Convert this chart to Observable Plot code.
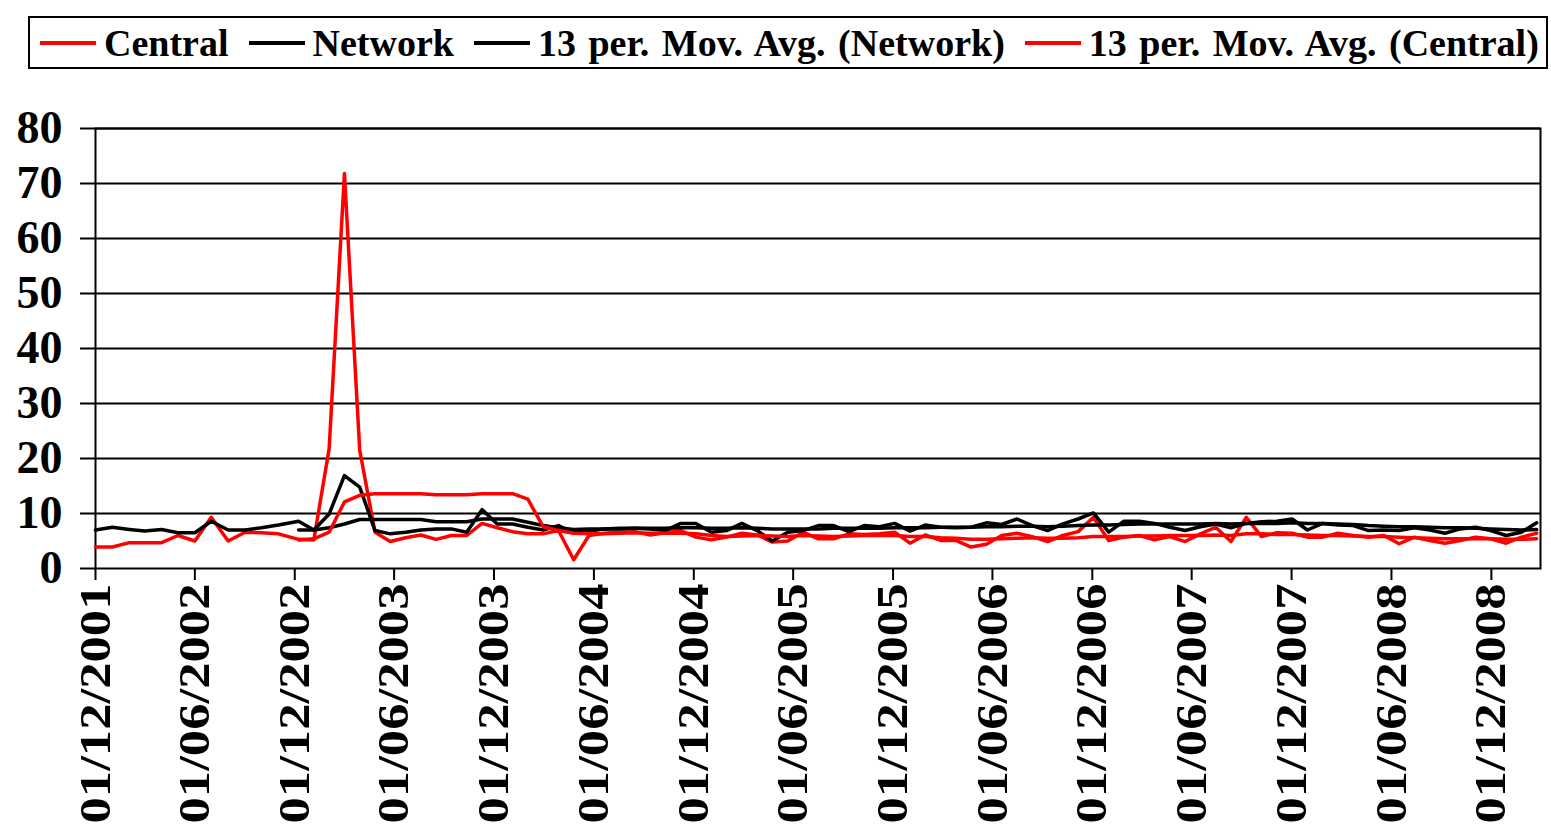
<!DOCTYPE html>
<html><head><meta charset="utf-8">
<script src="https://cdn.jsdelivr.net/npm/d3@7"></script>
<script src="https://cdn.jsdelivr.net/npm/@observablehq/plot@0.6"></script>
<style>
body{margin:0;background:#fff;width:1551px;height:824px;overflow:hidden;position:relative;font-family:"Liberation Serif","Times New Roman",serif;font-weight:bold;}
#legend{position:absolute;left:28px;top:16px;width:1516px;height:49px;border:2px solid #000;display:flex;align-items:center;font-size:38px;white-space:nowrap;box-sizing:content-box;word-spacing:3px;}
.item{display:flex;align-items:center;margin-left:20px;}
.item:first-child{margin-left:10px;}
.sw{display:inline-block;width:56px;height:4px;margin-right:8px;}
#chart{position:absolute;left:0;top:75px;}
</style>
</head><body>
<div id="legend"></div>
<div id="chart"></div>
<script>
// Period dates (first year monthly, then 4-weekly periods)
const dates = [
"2001-12-01","2002-01-01","2002-02-01","2002-03-01","2002-04-01","2002-05-01","2002-06-01","2002-07-01","2002-08-01","2002-09-01","2002-10-01","2002-11-01",
"2002-12-08","2003-01-05","2003-02-02","2003-03-02","2003-03-30","2003-04-27","2003-05-25","2003-06-22","2003-07-20","2003-08-17",
"2003-09-14","2003-10-12","2003-11-09","2003-12-07","2004-01-04","2004-02-01","2004-02-29","2004-03-28","2004-04-25","2004-05-23",
"2004-06-20","2004-07-18","2004-08-15","2004-09-12","2004-10-10","2004-11-07","2004-12-05","2005-01-02","2005-01-30","2005-02-27",
"2005-03-27","2005-04-24","2005-05-22","2005-06-19","2005-07-17","2005-08-14","2005-09-11","2005-10-09","2005-11-06","2005-12-04",
"2006-01-01","2006-01-29","2006-02-26","2006-03-26","2006-04-23","2006-05-21","2006-06-18","2006-07-16","2006-08-13","2006-09-10",
"2006-10-08","2006-11-05","2006-12-03","2006-12-31","2007-01-28","2007-02-25","2007-03-25","2007-04-22","2007-05-20","2007-06-17",
"2007-07-15","2007-08-12","2007-09-09","2007-10-07","2007-11-04","2007-12-02","2007-12-30","2008-01-27","2008-02-24","2008-03-23",
"2008-04-20","2008-05-18","2008-06-15","2008-07-13","2008-08-10","2008-09-07","2008-10-05","2008-11-02","2008-11-30","2008-12-28",
"2009-01-25","2009-02-22"
];
const central = [
3.9,3.9,4.7,4.7,4.7,6.0,5.0,9.3,5.0,6.6,6.5,6.3,
5.3,5.2,21.8,71.8,21.5,6.6,4.9,5.6,6.1,5.3,
6.0,6.0,8.2,7.4,6.7,6.3,6.3,6.9,1.6,6.0,
6.4,6.6,6.7,6.1,6.5,6.9,5.7,5.2,5.7,6.4,
6.1,4.8,5.0,6.6,5.4,5.4,6.3,6.2,6.3,6.6,
4.6,6.1,5.1,5.1,3.9,4.4,6.0,6.4,5.8,4.9,
6.0,6.7,9.3,5.1,5.7,6.0,5.2,5.8,4.9,6.3,
7.5,4.9,9.3,5.8,6.5,6.4,5.7,5.7,6.4,6.0,
5.7,6.0,4.5,5.7,5.1,4.6,5.1,5.7,5.4,4.6,
5.7,6.4
];
const network = [
7.0,7.5,7.1,6.8,7.1,6.5,6.5,8.6,7.0,7.0,7.4,7.9,
8.6,7.0,9.9,16.9,14.8,6.9,6.3,6.6,7.0,7.2,
7.2,6.6,10.7,8.1,8.1,7.5,7.0,7.8,6.5,6.8,
7.2,7.2,7.3,7.2,6.9,8.2,8.2,6.6,6.9,8.2,
6.9,5.0,6.6,6.9,7.8,7.8,6.7,7.8,7.6,8.2,
6.8,7.9,7.5,7.4,7.5,8.3,8.0,9.0,7.8,6.9,
8.1,9.0,10.1,6.6,8.6,8.6,8.2,7.5,6.9,7.6,
8.1,7.4,8.2,8.5,8.6,9.0,7.0,8.2,7.9,7.8,
6.9,7.0,6.9,7.4,7.0,6.4,7.2,7.5,6.9,6.0,
6.6,8.3
];
// 13-period moving averages (start at the 13th period)
const maNetwork = [
7.0,7.0,7.4,8.1,8.9,8.9,8.9,8.9,8.9,8.5,
8.5,8.5,9.0,9.0,9.0,8.4,7.8,7.4,7.1,7.2,
7.2,7.3,7.3,7.3,7.3,7.4,7.4,7.3,7.3,7.4,
7.3,7.2,7.2,7.2,7.2,7.3,7.3,7.3,7.3,7.4,
7.4,7.4,7.5,7.5,7.5,7.6,7.6,7.7,7.7,7.6,
7.7,7.8,7.9,7.9,8.0,8.1,8.1,8.1,8.1,8.1,
8.2,8.1,8.2,8.2,8.2,8.3,8.2,8.2,8.1,8.0,
7.8,7.7,7.6,7.6,7.5,7.4,7.4,7.3,7.2,7.1,
7.0,7.1
];
const maCentral = [
5.2,5.4,6.6,12.1,13.3,13.6,13.6,13.6,13.6,13.4,
13.4,13.4,13.6,13.6,13.6,12.6,7.6,6.9,6.4,6.3,
6.3,6.4,6.5,6.4,6.4,6.4,6.3,6.0,5.8,5.9,
6.0,5.9,5.8,6.0,5.9,5.8,5.9,6.0,6.0,6.0,
5.8,5.8,5.6,5.5,5.3,5.3,5.4,5.5,5.6,5.5,
5.5,5.6,5.8,5.8,5.8,5.9,5.9,6.0,6.0,6.0,
6.1,6.0,6.3,6.3,6.2,6.2,6.1,6.0,6.0,5.9,
5.8,5.8,5.7,5.6,5.5,5.4,5.4,5.4,5.4,5.3,
5.3,5.4
];
const xTickDates = ["2001-12-01","2002-06-01","2002-12-01","2003-06-01","2003-12-01","2004-06-01","2004-12-01","2005-06-01","2005-12-01","2006-06-01","2006-12-01","2007-06-01","2007-12-01","2008-06-01","2008-12-01"];
const yTicks = [0,10,20,30,40,50,60,70,80];
const seriesNames = ["Central","Network","13 per. Mov. Avg. (Network)","13 per. Mov. Avg. (Central)"];
const seriesColors = ["#ff0000","#000000","#000000","#ff0000"];

const parse = d3.utcParse("%Y-%m-%d");
const d = dates.map(parse);
const rowsC = central.map((v,i)=>({date:d[i], value:v}));
const rowsN = network.map((v,i)=>({date:d[i], value:v}));
const rowsMN = maNetwork.map((v,i)=>({date:d[i+12], value:v}));
const rowsMC = maCentral.map((v,i)=>({date:d[i+12], value:v}));

// legend
const leg = document.getElementById("legend");
seriesNames.forEach((n,i)=>{
  const it = document.createElement("div"); it.className="item";
  const sw = document.createElement("span"); sw.className="sw"; sw.style.background=seriesColors[i];
  const tx = document.createElement("span"); tx.textContent=n;
  it.appendChild(sw); it.appendChild(tx); leg.appendChild(it);
});

const svg = Plot.plot({
  width: 1551, height: 749,
  marginLeft: 95, marginRight: 11, marginTop: 53, marginBottom: 256,
  style: {fontFamily: '"Liberation Serif","Times New Roman",serif', fontWeight: "bold", color: "black", background: "white", overflow: "visible"},
  x: {type: "utc", domain: [parse("2001-12-01"), parse("2009-03-01")]},
  y: {domain: [0, 80]},
  marks: [
    Plot.ruleY(yTicks.filter(v => v > 0), {stroke: "black", strokeWidth: 2}),
    Plot.frame({stroke: "black", strokeWidth: 2}),
    Plot.lineY(rowsC, {x: "date", y: "value", stroke: seriesColors[0], strokeWidth: 3.5}),
    Plot.lineY(rowsN, {x: "date", y: "value", stroke: seriesColors[1], strokeWidth: 3.5}),
    Plot.lineY(rowsMN, {x: "date", y: "value", stroke: seriesColors[2], strokeWidth: 3.5}),
    Plot.lineY(rowsMC, {x: "date", y: "value", stroke: seriesColors[3], strokeWidth: 3.5}),
    Plot.axisY(yTicks, {tickSize: 15, tickPadding: 18, fontSize: 46, strokeWidth: 2, label: null}),
    Plot.axisX(xTickDates.map(parse), {tickFormat: d3.utcFormat("%d/%m/%Y"), tickRotate: -90, tickSize: 12, tickPadding: 3, fontSize: 44, strokeWidth: 2, label: null})
  ]
});
document.getElementById("chart").appendChild(svg);
svg.querySelectorAll('[aria-label="x-axis tick label"] text').forEach(t => {
  t.setAttribute("textLength", 240);
  t.setAttribute("lengthAdjust", "spacingAndGlyphs");
});
</script>
</body></html>
